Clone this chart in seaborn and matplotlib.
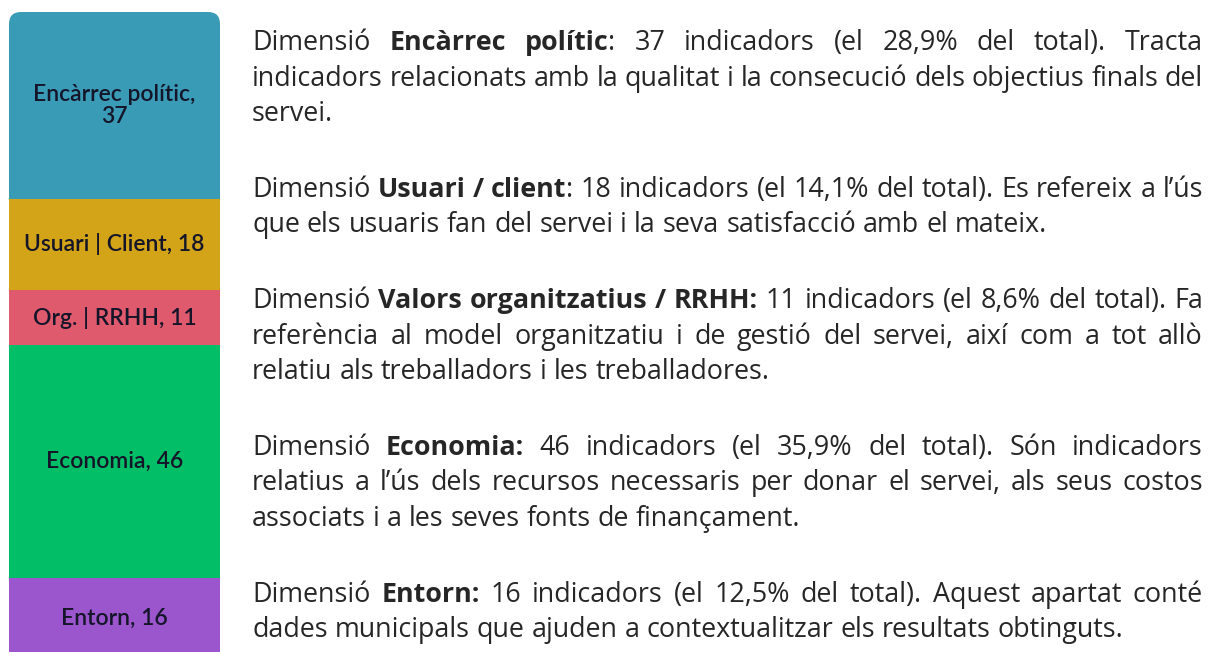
import matplotlib
matplotlib.use("Agg")
import matplotlib.pyplot as plt
from matplotlib.patches import FancyBboxPatch
import seaborn as sns

# number of indicators per dimension, stacked from top to bottom
dimensions = ["Encàrrec polític", "Usuari | Client", "Org. | RRHH", "Economia", "Entorn"]
indicators = [37, 18, 11, 46, 16]
bar_labels = ["Encàrrec polític,\n37", "Usuari | Client, 18", "Org. | RRHH, 11",
              "Economia, 46", "Entorn, 16"]
bar_colors = ["#3A9BB7", "#D3A418", "#E05A6D", "#02BE66", "#9B56CD"]

# description text, one list of lines per paragraph (** toggles bold)
paragraphs = [
    ["Dimensió **Encàrrec polític**: 37 indicadors (el 28,9% del total). Tracta",
     "indicadors relacionats amb la qualitat i la consecució dels objectius finals del",
     "servei."],
    ["Dimensió **Usuari / client**: 18 indicadors (el 14,1% del total). Es refereix a l’ús",
     "que els usuaris fan del servei i la seva satisfacció amb el mateix."],
    ["Dimensió **Valors organitzatius / RRHH:** 11 indicadors (el 8,6% del total). Fa",
     "referència al model organitzatiu i de gestió del servei, així com a tot allò",
     "relatiu als treballadors i les treballadores."],
    ["Dimensió **Economia:** 46 indicadors (el 35,9% del total). Són indicadors",
     "relatius a l’ús dels recursos necessaris per donar el servei, als seus costos",
     "associats i a les seves fonts de finançament."],
    ["Dimensió **Entorn:** 16 indicadors (el 12,5% del total). Aquest apartat conté",
     "dades municipals que ajuden a contextualitzar els resultats obtinguts."],
]

W, H = 1215, 652
sns.set_theme(style="white")
plt.rcParams["font.family"] = ["Open Sans", "DejaVu Sans"]

fig = plt.figure(figsize=(W / 100, H / 100), dpi=100)

# ---- stacked bar on the left ----
ax = fig.add_axes([9 / W, 0, 211 / W, 640 / H])
total = sum(indicators)
bottoms = [total - sum(indicators[:i + 1]) for i in range(len(indicators))]
for val, bot, col in zip(indicators, bottoms, bar_colors):
    sns.barplot(x=["total"], y=[val], bottom=bot, color=col, width=1,
                saturation=1, errorbar=None, linewidth=0, ax=ax)
for lab, val, bot in zip(bar_labels, indicators, bottoms):
    ax.text(0, bot + val / 2, lab, ha="center", va="center", fontsize=16.5,
            fontweight="semibold", color="#15152A", family=["Lato", "DejaVu Sans"],
            linespacing=1.1)
ax.set_xlim(-0.5, 0.5)
ax.set_ylim(total - 640 / 5.05, total)
ax.axis("off")

# round the top corners of the bar
r = 12 / 211
clip = FancyBboxPatch((0, -0.5), 1, 1.5, boxstyle=f"round,pad=0,rounding_size={r}",
                      mutation_aspect=211 / 640, transform=ax.transAxes,
                      facecolor="none", edgecolor="none")
for p in ax.patches:
    p.set_clip_path(clip)

# ---- justified text on the right ----
FS = 19.4
left, right = 252, 1203
line_step, para_step = 35.6, 75.6
fig.canvas.draw()
renderer = fig.canvas.get_renderer()


def text_width(s, bold):
    t = fig.text(0, 0, s, fontsize=FS, fontweight="bold" if bold else "normal")
    w = t.get_window_extent(renderer).width
    t.remove()
    return w


def parse(line, bold):
    words = []
    for raw in line.split(" "):
        pieces = []
        parts = raw.split("**")
        for i, part in enumerate(parts):
            if i > 0:
                bold = not bold
            if part:
                pieces.append((part, bold))
        words.append(pieces)
    return words, bold


space_w = text_width("a a", False) - text_width("aa", False)

y = 50
for para in paragraphs:
    bold = False
    for li, line in enumerate(para):
        words, bold = parse(line, bold)
        widths = [[text_width(s, b) for s, b in w] for w in words]
        last = li == len(para) - 1
        if last:
            gap = space_w
        else:
            gap = (right - left - sum(sum(w) for w in widths)) / (len(words) - 1)
        x = left
        for w, ws in zip(words, widths):
            for (s, b), pw in zip(w, ws):
                fig.text(x / W, 1 - y / H, s, fontsize=FS, va="baseline", ha="left",
                         fontweight="bold" if b else "normal", color="#262626")
                x += pw
            x += gap
        y += para_step if last else line_step

fig.savefig("out.png", dpi=100)
